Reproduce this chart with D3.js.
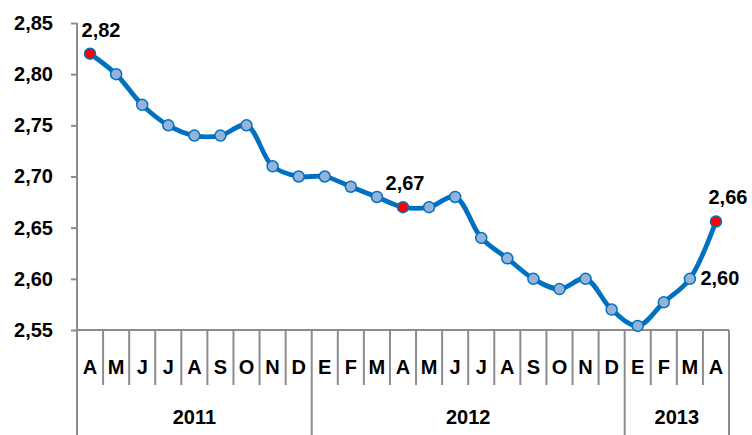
<!DOCTYPE html>
<html>
<head>
<meta charset="utf-8">
<script src="https://cdn.jsdelivr.net/npm/d3@7"></script>
<style>
  body { margin: 0; background: #fff; }
  svg { display: block; font-family: "Liberation Sans", Arial, sans-serif; font-weight: bold; }
</style>
</head>
<body>
<svg id="chart" width="752" height="435"></svg>
<script>
// months of the series (Spanish initials), Apr 2011 - Apr 2013
const months = ["A","M","J","J","A","S","O","N","D",
                "E","F","M","A","M","J","J","A","S","O","N","D",
                "E","F","M","A"];
const years = [
  { label: "2011", start: 0, end: 9 },
  { label: "2012", start: 9, end: 21 },
  { label: "2013", start: 21, end: 25 }
];
const values = [2.82, 2.80, 2.77, 2.75, 2.74, 2.74, 2.75, 2.71, 2.70,
                2.70, 2.69, 2.68, 2.67, 2.67, 2.68, 2.64, 2.62, 2.60, 2.59, 2.60, 2.57,
                2.554, 2.577, 2.60, 2.656];
const highlighted = [0, 12, 24];   // red markers
const labelled = [0, 12, 23, 24];  // points with value labels
const yTicks = [2.55, 2.60, 2.65, 2.70, 2.75, 2.80, 2.85];

const esLocale = d3.formatLocale({ decimal: ",", thousands: ".", grouping: [3], currency: ["", "€"] });
const fmt = esLocale.format(".2f");

const svg = d3.select("#chart");
const plotLeft = 77, plotRight = 729, plotTop = 23, plotBottom = 330;
const monthRow = 385, yearRow = 435;
const axisColor = "#8c8c8c";
const fontSize = 20;

const x = d3.scaleBand().domain(d3.range(months.length)).range([plotLeft, plotRight]);
const y = d3.scaleLinear().domain([2.55, 2.85]).range([plotBottom, plotTop]);
const cx = i => x(i) + x.bandwidth() / 2;

// y axis
const yAxis = svg.append("g").attr("transform", `translate(${plotLeft},0)`)
  .call(d3.axisLeft(y).tickValues(yTicks).tickFormat(fmt).tickSize(6).tickPadding(18));
yAxis.select(".domain").remove();
yAxis.selectAll("line").attr("stroke", axisColor).attr("stroke-width", 2);
yAxis.selectAll("text").attr("font-size", fontSize).attr("font-weight", "bold")
  .attr("font-family", "Liberation Sans, Arial, sans-serif").attr("fill", "#000");

const grid = svg.append("g").attr("stroke", axisColor).attr("stroke-width", 2);
grid.append("line").attr("x1", plotLeft).attr("x2", plotLeft).attr("y1", plotTop).attr("y2", yearRow);
grid.append("line").attr("x1", plotLeft).attr("x2", plotRight).attr("y1", plotBottom).attr("y2", plotBottom);

// category separators
const yearBounds = new Set(years.flatMap(d => [d.start, d.end]));
d3.range(1, months.length + 1).forEach(i => {
  const xx = i === months.length ? plotRight : x(i);
  grid.append("line").attr("x1", xx).attr("x2", xx).attr("y1", plotBottom)
    .attr("y2", yearBounds.has(i) ? yearRow : monthRow);
});

// month labels
svg.append("g").selectAll("text").data(months).join("text")
  .attr("x", (d, i) => cx(i)).attr("y", 374)
  .attr("text-anchor", "middle").attr("font-size", fontSize).text(d => d);

// year labels
svg.append("g").selectAll("text").data(years).join("text")
  .attr("x", d => (x(d.start) + (d.end === months.length ? plotRight : x(d.end))) / 2)
  .attr("y", 424).attr("text-anchor", "middle").attr("font-size", fontSize).text(d => d.label);

// line
const line = d3.line().x((d, i) => cx(i)).y(d => y(d)).curve(d3.curveCatmullRom.alpha(0.5));
svg.append("path").datum(values).attr("d", line)
  .attr("fill", "none").attr("stroke", "#0070C0").attr("stroke-width", 4.8)
  .attr("stroke-linejoin", "round");

// markers
svg.append("g").selectAll("circle").data(values).join("circle")
  .attr("cx", (d, i) => cx(i)).attr("cy", d => y(d)).attr("r", 5.5)
  .attr("fill", (d, i) => highlighted.includes(i) ? "#FF0000" : "#95B3D7")
  .attr("stroke", "#0070C0").attr("stroke-width", 1.5);

// value labels
const labelOffset = { 0: [11, -17], 12: [2, -17], 23: [30, 6], 24: [12, -18] };
svg.append("g").selectAll("text").data(labelled).join("text")
  .attr("x", i => cx(i) + labelOffset[i][0])
  .attr("y", i => y(values[i]) + labelOffset[i][1])
  .attr("text-anchor", "middle").attr("font-size", fontSize)
  .text(i => fmt(values[i]));
</script>
</body>
</html>
